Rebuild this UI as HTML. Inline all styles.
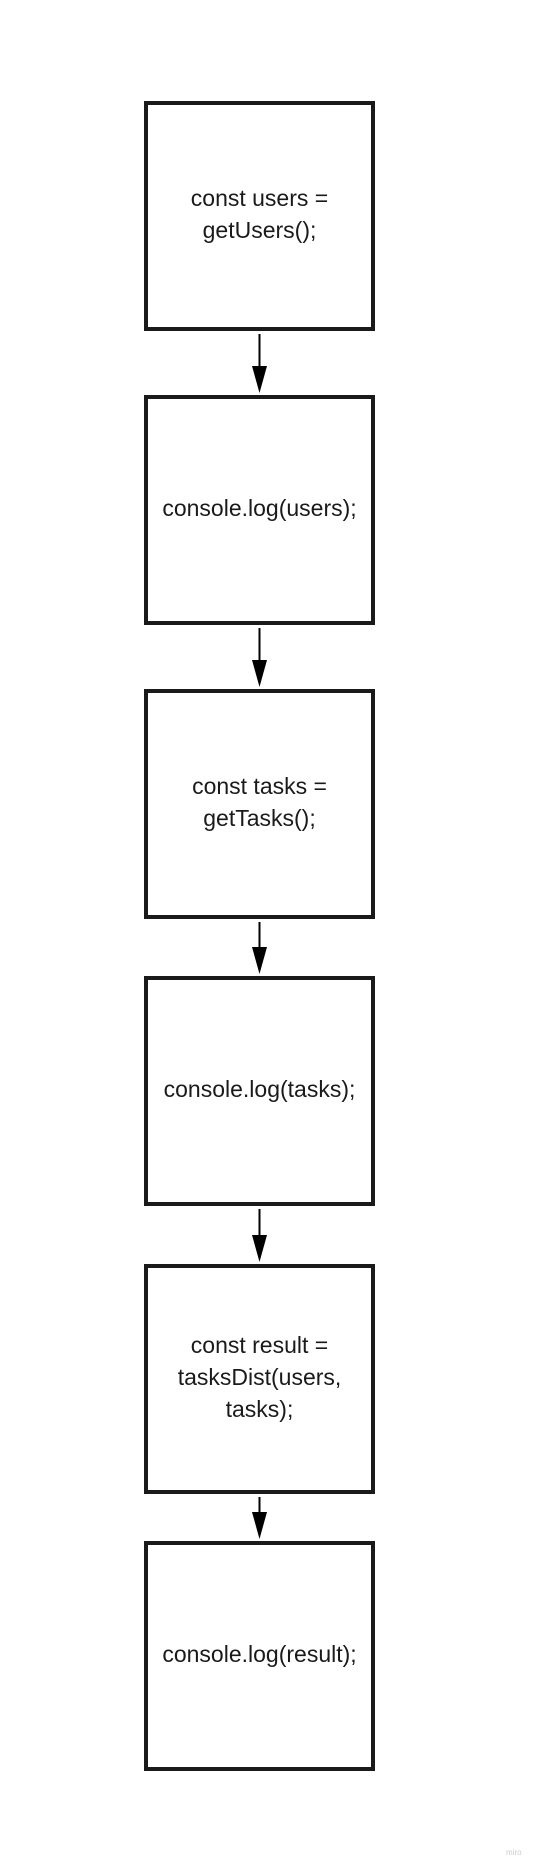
<!DOCTYPE html>
<html><head><style>
body{margin:0;width:535px;height:1867px;background:#fff;position:relative;overflow:hidden;font-family:"Liberation Sans",sans-serif;}
.b{position:absolute;left:144px;width:223px;height:218px;padding-bottom:4px;border:4px solid #1a1a1a;display:flex;align-items:center;justify-content:center;text-align:center;font-size:23px;line-height:32px;color:#1a1a1a;}
svg{position:absolute;left:0;top:0}
</style></head><body>
<div class="b" style="top:101px">const users =<br>getUsers();</div>
<div class="b" style="top:395px">console.log(users);</div>
<div class="b" style="top:689px">const tasks =<br>getTasks();</div>
<div class="b" style="top:976px">console.log(tasks);</div>
<div class="b" style="top:1264px">const result =<br>tasksDist(users,<br>tasks);</div>
<div class="b" style="top:1541px">console.log(result);</div>
<svg width="535" height="1867">
<g stroke="#000" stroke-width="2" fill="#000">
<line x1="259.5" y1="334" x2="259.5" y2="372"/><polygon points="252,366 267,366 259.5,393" stroke="none"/>
<line x1="259.5" y1="628" x2="259.5" y2="666"/><polygon points="252,660 267,660 259.5,687" stroke="none"/>
<line x1="259.5" y1="922" x2="259.5" y2="953"/><polygon points="252,947 267,947 259.5,974" stroke="none"/>
<line x1="259.5" y1="1209" x2="259.5" y2="1241"/><polygon points="252,1235 267,1235 259.5,1262" stroke="none"/>
<line x1="259.5" y1="1497" x2="259.5" y2="1518"/><polygon points="252,1512 267,1512 259.5,1539" stroke="none"/>
</g>
<text x="506" y="1855" font-size="8" fill="#ccc" font-family="Liberation Sans,sans-serif">miro</text>
</svg>
</body></html>
